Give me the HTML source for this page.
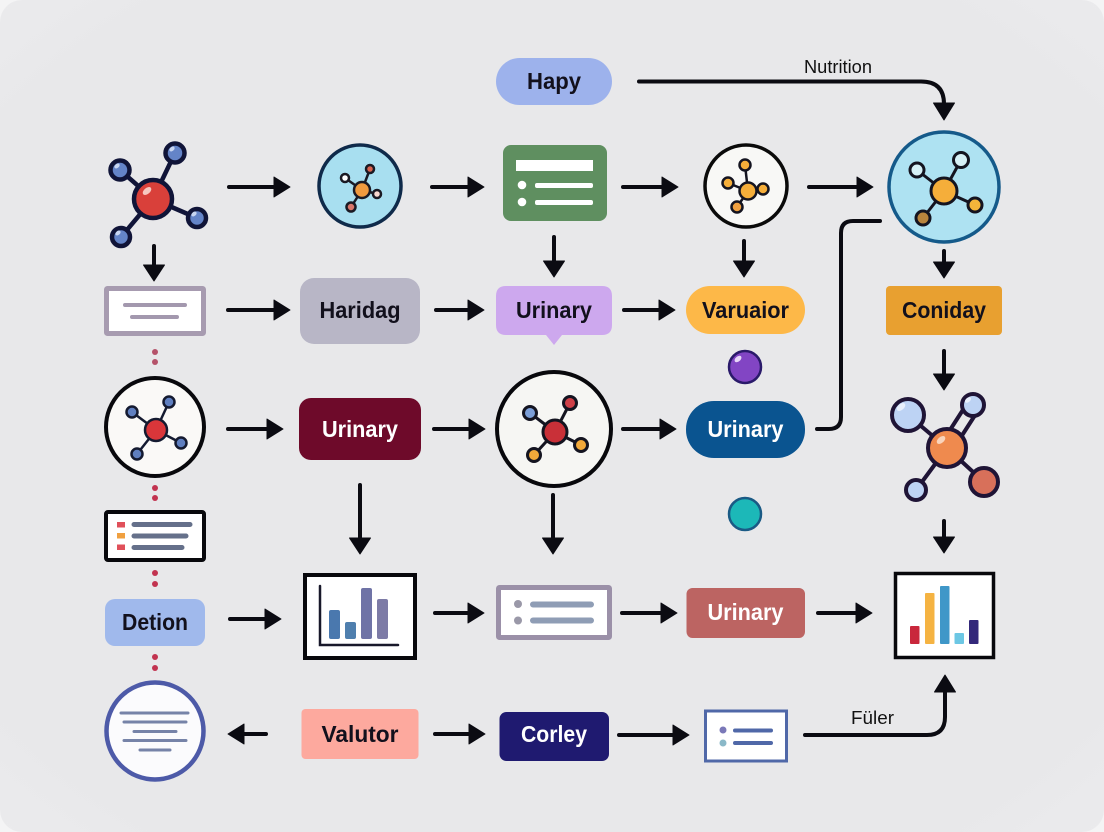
<!DOCTYPE html>
<html>
<head>
<meta charset="utf-8">
<style>
html,body{margin:0;padding:0;background:#f4f4f5;width:1104px;height:832px;overflow:hidden}
svg{display:block}
text{font-family:"Liberation Sans",sans-serif}
.l{font-weight:700;font-size:23px;text-anchor:middle;fill:#12101c}
.w{fill:#fff}
.n{font-size:18px;fill:#111}
</style>
</head>
<body>
<svg width="1104" height="832" viewBox="0 0 1104 832" xmlns="http://www.w3.org/2000/svg">
<defs>
<radialGradient id="bg" cx="50%" cy="50%" r="75%">
<stop offset="0" stop-color="#e8e8ea"/><stop offset="0.8" stop-color="#e8e8ea"/><stop offset="1" stop-color="#ececee"/>
</radialGradient>
</defs>
<rect x="0" y="0" width="1104" height="832" rx="22" fill="url(#bg)"/>

<!-- connectors -->
<path fill="none" stroke="#0b0b12" stroke-width="4" stroke-linecap="round" d="
M229 187H276 M432 187H470 M623 187H664 M809 187H859
M228 310H276 M436 310H470 M624 310H661
M228 429H269 M434 429H471 M623 429H662
M230 619H267 M435 613H470 M622 613H662 M818 613H857
M242 734H266 M435 734H471 M619 735H675
M154 246V267 M554 237V263 M744 241V263 M944 251V265 M944 351V376 M944 521V539 M360 485V540 M553 495V540
M639 81.500H921Q944 81.500 944 104V106
M817 429H829Q841 429 841 417V233Q841 221 853 221H880
M805 735H927Q945 735 945 717V690"/>
<path fill="#0b0b12" stroke="#0b0b12" stroke-width="1" stroke-linejoin="round" d="
M290 187l-16-10v20z M484 187l-16-10v20z M678 187l-16-10v20z M873 187l-16-10v20z
M290 310l-16-10v20z M484 310l-16-10v20z M675 310l-16-10v20z
M283 429l-16-10v20z M485 429l-16-10v20z M676 429l-16-10v20z
M281 619l-16-10v20z M484 613l-16-10v20z M677 613l-16-10v20z M872 613l-16-10v20z
M228 734l16-10v20z M485 734l-16-10v20z M689 735l-16-10v20z
M154 281l-10.500-16h21z M554 277l-10.500-16h21z M744 277l-10.500-16h21z M944 278l-10.500-16h21z M944 390l-10.500-16h21z M944 553l-10.500-16h21z M360 554l-10.500-16h21z M553 554l-10.500-16h21z
M944 120l-10.500-17h21z M945 675l-10.500 17h21z"/>

<text class="n" x="804" y="73" textLength="68" lengthAdjust="spacingAndGlyphs">Nutrition</text>
<text class="n" x="851" y="724" textLength="43" lengthAdjust="spacingAndGlyphs">Füler</text>

<!-- top pill -->
<rect x="496" y="58" width="116" height="47" rx="23.500" fill="#9db2ec"/>
<text class="l" x="554" y="89" textLength="54" lengthAdjust="spacingAndGlyphs">Hapy</text>

<!-- molecule 1 -->
<g stroke="#101438" stroke-width="4.500">
<path d="M153 199L175 153M153 199L120 170M153 199L197 218M153 199L121 237" fill="none"/>
<circle cx="175" cy="153" r="9.500" fill="#6484c8"/>
<circle cx="120" cy="170" r="9.500" fill="#6484c8"/>
<circle cx="197" cy="218" r="9" fill="#6484c8"/>
<circle cx="121" cy="237" r="9" fill="#6484c8"/>
<circle cx="153" cy="199" r="19" fill="#d9403a"/>
</g>
<ellipse cx="147" cy="191" rx="5" ry="3" fill="#f6c8c0" transform="rotate(-40 147 191)"/>
<ellipse cx="172" cy="149" rx="3" ry="2" fill="#c8d6f2" transform="rotate(-40 172 149)"/>
<ellipse cx="117" cy="166" rx="3" ry="2" fill="#c8d6f2" transform="rotate(-40 117 166)"/>
<ellipse cx="194" cy="214" rx="3" ry="2" fill="#c8d6f2" transform="rotate(-40 194 214)"/>
<ellipse cx="118" cy="233" rx="3" ry="2" fill="#c8d6f2" transform="rotate(-40 118 233)"/>

<!-- circle 2 -->
<circle cx="360" cy="186" r="41" fill="#a8dff0" stroke="#0f2a4a" stroke-width="3.500"/>
<g stroke="#1a1a24" stroke-width="2.500">
<path d="M362 190L370 169M362 190L345 178M362 190L377 194M362 190L351 207" fill="none"/>
<circle cx="370" cy="169" r="4" fill="#d9634f"/>
<circle cx="345" cy="178" r="4" fill="#fff"/>
<circle cx="377" cy="194" r="4" fill="#f8d8d0"/>
<circle cx="351" cy="207" r="4.500" fill="#d9766a"/>
<circle cx="362" cy="190" r="8" fill="#f09a3e"/>
</g>

<!-- green list -->
<rect x="503" y="145" width="104" height="76" rx="8" fill="#5f8f60"/>
<rect x="516" y="160" width="77" height="11" fill="#fff"/>
<circle cx="522" cy="185" r="4.300" fill="#fff"/><circle cx="522" cy="202" r="4.300" fill="#fff"/>
<rect x="535" y="183" width="58" height="5" rx="2" fill="#fff"/>
<rect x="535" y="200" width="58" height="5" rx="2" fill="#fff"/>

<!-- circle 4 -->
<circle cx="746" cy="186" r="41" fill="#f8f8f6" stroke="#0a0a0a" stroke-width="3.500"/>
<g stroke="#141420" stroke-width="2.500">
<path d="M748 191L745 165M748 191L728 183M748 191L763 189M748 191L737 207" fill="none"/>
<circle cx="745" cy="165" r="5.500" fill="#f5ae3a"/>
<circle cx="728" cy="183" r="5.500" fill="#f5ae3a"/>
<circle cx="763" cy="189" r="5.500" fill="#f5ae3a"/>
<circle cx="737" cy="207" r="5.500" fill="#f0a040"/>
<circle cx="748" cy="191" r="8.500" fill="#f5ae3a"/>
</g>

<!-- big circle 5 -->
<circle cx="944" cy="187" r="55" fill="#aee2f2" stroke="#155a8a" stroke-width="3.500"/>
<g stroke="#141420" stroke-width="3">
<path d="M944 191L917 170M944 191L961 160M944 191L975 205M944 191L923 218" fill="none"/>
<circle cx="917" cy="170" r="7" fill="#d6f0f6"/>
<circle cx="961" cy="160" r="7.500" fill="#d6f0f6"/>
<circle cx="975" cy="205" r="7" fill="#f5b53a"/>
<circle cx="923" cy="218" r="7" fill="#b9843c"/>
<circle cx="944" cy="191" r="13" fill="#f5ae3a"/>
</g>

<!-- row 2 -->
<rect x="106.500" y="288.500" width="97" height="45" rx="1" fill="#fff" stroke="#a79bb0" stroke-width="5"/>
<path d="M125 305H185M132 317H177" stroke="#a398ae" stroke-width="4" stroke-linecap="round"/>
<rect x="300" y="278" width="120" height="66" rx="14" fill="#b8b6c6"/>
<text class="l" x="360" y="318" textLength="81" lengthAdjust="spacingAndGlyphs">Haridag</text>
<path d="M506 286H602Q612 286 612 296V325Q612 335 602 335H562L554 345L546 335H506Q496 335 496 325V296Q496 286 506 286Z" fill="#cda8ee"/>
<text class="l" x="554" y="318" textLength="76" lengthAdjust="spacingAndGlyphs">Urinary</text>
<rect x="686" y="286" width="119" height="48" rx="24" fill="#fdb848"/>
<text class="l" x="745.500" y="318" textLength="87" lengthAdjust="spacingAndGlyphs">Varuaior</text>
<rect x="886" y="286" width="116" height="49" rx="4" fill="#e8a030"/>
<text class="l" x="944" y="318" textLength="84" lengthAdjust="spacingAndGlyphs">Coniday</text>

<!-- dots -->
<g fill="#b5526a"><circle cx="155" cy="352" r="3"/><circle cx="155" cy="362" r="3"/></g>
<g fill="#c23350">
<circle cx="155" cy="488" r="3"/><circle cx="155" cy="498" r="3"/>
<circle cx="155" cy="573" r="3"/><circle cx="155" cy="584" r="3"/>
<circle cx="155" cy="657" r="3"/><circle cx="155" cy="668" r="3"/>
</g>

<!-- balls -->
<circle cx="745" cy="367" r="16" fill="#8245c4" stroke="#2a1a6a" stroke-width="2.500"/>
<ellipse cx="738" cy="359" rx="4" ry="2.500" fill="#e8d8f8" transform="rotate(-40 738 359)"/>
<circle cx="745" cy="514" r="16" fill="#1cb8b8" stroke="#1a5a85" stroke-width="2.500"/>

<!-- row 3 -->
<circle cx="155" cy="427" r="49" fill="#faf9f7" stroke="#08080c" stroke-width="4"/>
<g stroke="#141a30" stroke-width="2.500">
<path d="M156 430L132 412M156 430L169 402M156 430L181 443M156 430L137 454" fill="none"/>
<circle cx="132" cy="412" r="5.500" fill="#5f7fc0"/>
<circle cx="169" cy="402" r="5.500" fill="#5f7fc0"/>
<circle cx="181" cy="443" r="5.500" fill="#5f7fc0"/>
<circle cx="137" cy="454" r="5.500" fill="#5f7fc0"/>
<circle cx="156" cy="430" r="11" fill="#d9363a"/>
</g>
<rect x="299" y="398" width="122" height="62" rx="12" fill="#6e0a2a"/>
<text class="l w" x="360" y="437" textLength="76" lengthAdjust="spacingAndGlyphs">Urinary</text>
<circle cx="554" cy="429" r="57" fill="#f6f6f3" stroke="#08080c" stroke-width="4"/>
<g stroke="#141420" stroke-width="3">
<path d="M555 432L530 413M555 432L570 403M555 432L581 445M555 432L534 455" fill="none"/>
<circle cx="530" cy="413" r="6.500" fill="#7c9fd8"/>
<circle cx="570" cy="403" r="6.500" fill="#cf4048"/>
<circle cx="581" cy="445" r="6.500" fill="#f2a93a"/>
<circle cx="534" cy="455" r="6.500" fill="#f2a93a"/>
<circle cx="555" cy="432" r="12" fill="#c93038"/>
</g>
<rect x="686" y="401" width="119" height="57" rx="28" fill="#0a5490"/>
<text class="l w" x="745.500" y="437" textLength="76" lengthAdjust="spacingAndGlyphs">Urinary</text>

<!-- right molecule -->
<g stroke="#1f1436" stroke-width="4">
<path d="M947 448L908 415M947 448L916 490M947 448L984 482M941 444L968 402M952 451L979 409" fill="none"/>
<circle cx="908" cy="415" r="16" fill="#bdd3f4"/>
<circle cx="973" cy="405" r="11" fill="#bdd3f4"/>
<circle cx="984" cy="482" r="14" fill="#d8705a"/>
<circle cx="916" cy="490" r="10" fill="#bdd3f4"/>
<circle cx="947" cy="448" r="19" fill="#ef8a4e"/>
</g>
<ellipse cx="901" cy="407" rx="5" ry="3" fill="#e8f0fc" transform="rotate(-40 901 407)"/>
<ellipse cx="968" cy="400" rx="3.500" ry="2.200" fill="#e8f0fc" transform="rotate(-40 968 400)"/>
<ellipse cx="941" cy="440" rx="5" ry="3" fill="#f9d4bc" transform="rotate(-40 941 440)"/>

<!-- left list -->
<rect x="106" y="512" width="98" height="48" rx="2" fill="#fff" stroke="#08080c" stroke-width="4"/>
<rect x="117" y="522" width="8" height="5.500" fill="#e0505a"/>
<rect x="117" y="533" width="8" height="5.500" fill="#f0a040"/>
<rect x="117" y="544.500" width="8" height="5.500" fill="#e0505a"/>
<path d="M134 524.500H190M134 536H186M134 547.500H182" stroke="#65708a" stroke-width="5" stroke-linecap="round"/>

<!-- row 4 -->
<rect x="105" y="599" width="100" height="47" rx="10" fill="#a0b9ec"/>
<text class="l" x="155" y="630" textLength="66" lengthAdjust="spacingAndGlyphs">Detion</text>
<rect x="305" y="575" width="110" height="83" fill="#fff" stroke="#08080c" stroke-width="4"/>
<path d="M320 586V645H398" fill="none" stroke="#18182a" stroke-width="2.500" stroke-linecap="round"/>
<rect x="329" y="610" width="11" height="29" rx="2" fill="#4a78ae"/>
<rect x="345" y="622" width="11" height="17" rx="2" fill="#4f7fae"/>
<rect x="361" y="588" width="11" height="51" rx="2" fill="#6f73a6"/>
<rect x="377" y="599" width="11" height="40" rx="2" fill="#7d7ba6"/>
<rect x="498.500" y="587.500" width="111" height="50" rx="1" fill="#fff" stroke="#9b90a8" stroke-width="5"/>
<circle cx="518" cy="604" r="4" fill="#9a98a8"/><circle cx="518" cy="620.500" r="4" fill="#9a98a8"/>
<path d="M533 604.500H591M533 620.500H591" stroke="#8f9db5" stroke-width="6" stroke-linecap="round"/>
<rect x="686.500" y="588" width="118.500" height="50" rx="6" fill="#bc6462"/>
<text class="l w" x="745.500" y="620" textLength="76" lengthAdjust="spacingAndGlyphs">Urinary</text>
<rect x="895.500" y="573.500" width="98" height="84" fill="#fff" stroke="#08080c" stroke-width="3.500"/>
<rect x="910" y="626" width="9.500" height="18" rx="1" fill="#c9283c"/>
<rect x="925" y="593" width="9.500" height="51" rx="1" fill="#f5b342"/>
<rect x="940" y="586" width="9.500" height="58" rx="1" fill="#3f97c8"/>
<rect x="954.500" y="633" width="9.500" height="11" rx="1" fill="#6cc7e4"/>
<rect x="969" y="620" width="9.500" height="24" rx="1" fill="#33287a"/>

<!-- row 5 -->
<circle cx="155" cy="731" r="48.500" fill="#fbfbfd" stroke="#4d5aa8" stroke-width="4.500"/>
<path d="M121 713H188M124 722H186M134 731.500H176M124 740.500H186M140 750H170" stroke="#7683a8" stroke-width="3" stroke-linecap="round"/>
<rect x="301.500" y="709" width="117" height="50" rx="4" fill="#fda99e"/>
<text class="l" x="360" y="742" textLength="77" lengthAdjust="spacingAndGlyphs">Valutor</text>
<rect x="499.500" y="712" width="109.500" height="49" rx="7" fill="#1f1a70"/>
<text class="l w" x="554" y="742" textLength="66" lengthAdjust="spacingAndGlyphs">Corley</text>
<rect x="705.500" y="711" width="81" height="50" fill="#fff" stroke="#5068a8" stroke-width="3"/>
<circle cx="723" cy="730" r="3.500" fill="#7a78b8"/><circle cx="723" cy="743" r="3.500" fill="#8ab8c8"/>
<path d="M735 730.500H771M735 743H771" stroke="#5068a8" stroke-width="4" stroke-linecap="round"/>
</svg>
</body>
</html>
